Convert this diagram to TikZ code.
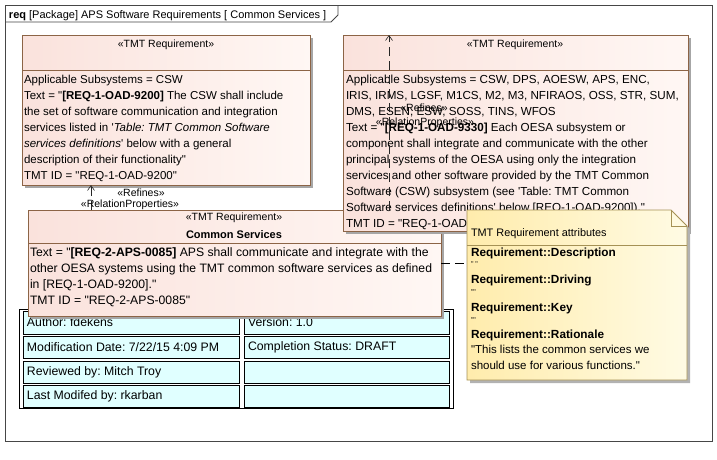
\documentclass[tikz,border=0pt]{standalone}
\usepackage{fontspec}
\setmainfont{Liberation Sans}
\usetikzlibrary{arrows.meta,shadows}
\definecolor{reqborder}{RGB}{140,100,70}
\definecolor{reqA}{RGB}{250,226,220}
\definecolor{reqB}{RGB}{255,247,244}
\definecolor{noteA}{RGB}{255,236,172}
\definecolor{noteB}{RGB}{255,251,228}
\definecolor{noteborder}{RGB}{165,145,85}
\definecolor{tabfill}{RGB}{224,255,255}
\definecolor{framec}{RGB}{70,70,70}
\newcommand{\sq}{\textquotesingle}
\newcommand{\dq}{\textquotedbl}
\frenchspacing
\begin{document}
\begin{tikzpicture}[x=1pt,y=-1pt,
  every node/.style={inner sep=0pt,outer sep=0pt},
  reqbox/.style={draw=reqborder,line width=0.9pt,left color=reqA,right color=reqB,
    drop shadow={shadow xshift=3pt,shadow yshift=-3pt,fill=black!35,opacity=1},
    anchor=north west,rectangle},
  sepline/.style={draw=reqborder,line width=0.8pt},
  body/.style={font=\fontsize{11.5}{16}\selectfont,align=left,anchor=north west},
  stereo/.style={font=\fontsize{10.5}{12}\selectfont},
  cellbox/.style={draw=black,fill=tabfill,anchor=north west,line width=0.6pt,rectangle},
  celltext/.style={font=\fontsize{12.3}{14}\selectfont,anchor=west},
  refl/.style={draw=black!85,line width=0.6pt,dash pattern=on 9pt off 5pt,
    -{Straight Barb[length=5pt,width=7pt]}},
  notelink/.style={draw=black,line width=0.6pt,dash pattern=on 9pt off 5pt},
  notehead/.style={anchor=base west,font=\fontsize{11.8}{14}\selectfont\bfseries},
  noteval/.style={anchor=base west,font=\fontsize{7}{8}\selectfont},
  notebody/.style={font=\fontsize{11.5}{16}\selectfont,align=left,anchor=north west},
]
\useasboundingbox (0,0) rectangle (717,459);
\fill[white] (0,0) rectangle (717,459);
% frame
\node[draw=framec,line width=0.9pt,anchor=north west,minimum width=707pt,minimum height=436pt] (frame) at (5,5) {};
\draw[framec,line width=0.8pt] (5,22) -- (331,22) -- (338,15) -- (338,5);
\node[anchor=base west,font=\fontsize{11}{12}\selectfont] (title) at (9,18) {\textbf{req} [Package] APS Software Requirements [ Common Services ]};

% left requirement
\node[reqbox,minimum width=288pt,minimum height=150pt] (lb) at (22,35) {};
\draw[sepline] (22,70) -- (310,70);
\node[stereo] (lbst) at (166,45) {«TMT Requirement»};
\node[body] (lbtx) at (24,75) {Applicable Subsystems = CSW\\
Text = \dq\textbf{[REQ-1-OAD-9200]} The CSW shall include\\
the set of software communication and integration\\
services listed in \sq\textit{Table: TMT Common Software}\\
\textit{services definitions}\sq{} below with a general\\
description of their functionality\dq\\
TMT ID = \dq REQ-1-OAD-9200\dq};

% table
\node[draw=black,fill=white,line width=0.8pt,anchor=north west,minimum width=434pt,minimum height=99pt,
  drop shadow={shadow xshift=1.2pt,shadow yshift=-1.2pt,fill=black,opacity=1}] (tab) at (19,309) {};
\node[cellbox,minimum width=216pt,minimum height=23pt] (c11) at (23,311) {};
\node[cellbox,minimum width=205pt,minimum height=23pt] (c12) at (244,311) {};
\node[cellbox,minimum width=216pt,minimum height=22pt] (c21) at (23,336.5) {};
\node[cellbox,minimum width=205pt,minimum height=22pt] (c22) at (244,336.5) {};
\node[cellbox,minimum width=216pt,minimum height=22pt] (c31) at (23,361) {};
\node[cellbox,minimum width=205pt,minimum height=22pt] (c32) at (244,361) {};
\node[cellbox,minimum width=216pt,minimum height=22pt] (c41) at (23,385.5) {};
\node[cellbox,minimum width=205pt,minimum height=22pt] (c42) at (244,385.5) {};
\node[celltext] (t11) at (27,322.5) {Author: fdekens};
\node[celltext] (t12) at (248,322.5) {Version: 1.0};
\node[celltext] (t21) at (27,347.5) {Modification Date: 7/22/15 4:09 PM};
\node[celltext] (t22) at (248,347.5) {Completion Status: DRAFT};
\node[celltext] (t31) at (27,372) {Reviewed by: Mitch Troy};
\node[celltext] (t41) at (27,396.5) {Last Modifed by: rkarban};

% common services
\node[reqbox,minimum width=413pt,minimum height=106pt] (cs) at (28,210) {};
\draw[sepline] (28,243) -- (441,243);
\node[stereo] (csst) at (234,218) {«TMT Requirement»};
\node[font=\fontsize{11}{12}\selectfont\bfseries] (csname) at (234,234.5) {Common Services};
\node[body,font=\fontsize{12.2}{16}\selectfont] (cstx) at (30,248) {Text = \dq\textbf{[REQ-2-APS-0085]} APS shall communicate and integrate with the\\
other OESA systems using the TMT common software services as defined\\
in [REQ-1-OAD-9200].\dq\\
TMT ID = \dq REQ-2-APS-0085\dq};

% right requirement
\node[reqbox,minimum width=345pt,minimum height=196pt] (rb) at (343,35) {};
\draw[sepline] (343,70) -- (688,70);
\node[stereo] (rbst) at (515,45) {«TMT Requirement»};
\node[body,font=\fontsize{11.65}{16}\selectfont] (rbtx) at (346,75) {Applicable Subsystems = CSW, DPS, AOESW, APS, ENC,\\
IRIS, IRMS, LGSF, M1CS, M2, M3, NFIRAOS, OSS, STR, SUM,\\
DMS, ESEN, ESW, SOSS, TINS, WFOS\\
Text = \dq\textbf{[REQ-1-OAD-9330]} Each OESA subsystem or\\
component shall integrate and communicate with the other\\
principal systems of the OESA using only the integration\\
services and other software provided by the TMT Common\\
Software (CSW) subsystem (see \sq Table: TMT Common\\
Software services definitions\sq{} below [REQ-1-OAD-9200]).\dq\\
TMT ID = \dq REQ-1-OAD-9330\dq};

% connectors (refines)
\path (cs.north west) ++(63,0) coordinate (a1);
\draw[refl] (a1) -- (a1 |- lb.south);
\node[stereo] (l1a) at (141,193) {«Refines»};
\node[stereo] (l1b) at (130,205) {«RelationProperties»};
\path (cs.north west) ++(361,0) coordinate (a2);
\draw[refl] (a2) -- (a2 |- rb.north);
\node[stereo] (l2a) at (424,108) {«Refines»};
\node[stereo] (l2b) at (425,122.5) {«RelationProperties»};

% note
\node[anchor=north west,minimum width=220pt,minimum height=170pt] (note) at (467,210) {};
\path[draw=noteborder,line width=0.8pt,left color=noteA,right color=noteB,
  drop shadow={shadow xshift=3pt,shadow yshift=-3pt,fill=black!30,opacity=1}]
  (note.north west) -- ([xshift=-16pt]note.north east) -- ([yshift=-16pt]note.north east)
  -- (note.south east) -- (note.south west) -- cycle;
\draw[noteborder,line width=0.7pt] ([xshift=-16pt]note.north east) -- ([xshift=-16pt,yshift=-16pt]note.north east) -- ([yshift=-16pt]note.north east);
\draw[noteborder,line width=0.7pt] (note.west |- 0,245) -- (note.east |- 0,245);
\node[anchor=west,font=\fontsize{10.9}{12}\selectfont] (nt) at (471,234) {TMT Requirement attributes};
\node[notehead] (n1) at (471,256) {Requirement::Description};
\node[noteval] (n1v) at (471,266) {\dq{} \dq};
\node[notehead] (n2) at (471,283) {Requirement::Driving};
\node[noteval] (n2v) at (471,294) {\dq\dq};
\node[notehead] (n3) at (471,311) {Requirement::Key};
\node[noteval] (n3v) at (471,322) {\dq\dq};
\node[notehead] (n4) at (471,338) {Requirement::Rationale};
\node[notebody] (n4v) at (471,345) {\dq This lists the common services we\\should use for various functions.\dq};

\draw[notelink] (cs.east) -- (cs.east -| note.west);
\end{tikzpicture}
\end{document}
